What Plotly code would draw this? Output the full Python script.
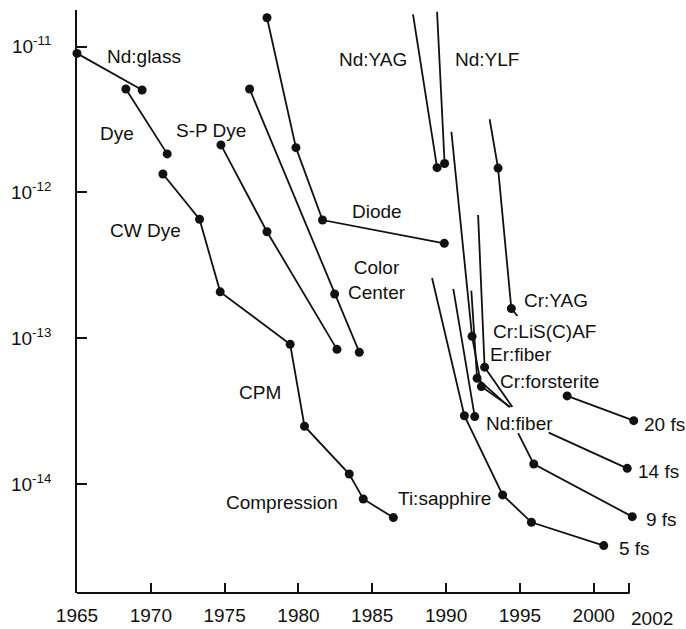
import plotly.graph_objects as go

INK = "#111111"
FONT = "Liberation Sans, Arial, Helvetica, sans-serif"

X_RANGE = [1965, 2003.0]
X_AXIS_END = 2002.42          # where the drawn x axis line stops
Y_RANGE = [-14.748, -10.748]  # log10 seconds

# pulse width (s) vs year
# marked points per laser line; *_top / *_tail are the unmarked ends of the trend lines
nd_glass_yr = [1965.0, 1969.41]
nd_glass_s = [9.0e-12, 5.05e-12]

dye_yr = [1968.31, 1971.11]
dye_s = [5.13e-12, 1.84e-12]

# CW dye -> CPM -> compression, one continuous line
cw_dye_yr = [1970.82, 1973.30, 1974.70, 1979.44, 1980.41, 1983.44, 1984.39, 1986.43]
cw_dye_s = [1.34e-12, 6.55e-13, 2.08e-13, 9.08e-14, 2.49e-14, 1.17e-14, 7.89e-15, 5.88e-15]

sp_dye_yr = [1974.75, 1977.87, 1982.61]
sp_dye_s = [2.12e-12, 5.38e-13, 8.39e-14]

color_center_yr = [1976.69, 1982.45, 1984.12]
color_center_s = [5.13e-12, 2.01e-13, 8.02e-14]

diode_yr = [1977.87, 1979.83, 1981.63, 1989.88]
diode_s = [1.58e-11, 2.03e-12, 6.47e-13, 4.48e-13]

nd_yag_top = (1987.76, 1.67e-11)
nd_yag_yr = [1989.39]
nd_yag_s = [1.48e-12]

nd_ylf_top = (1989.39, 1.74e-11)
nd_ylf_yr = [1989.90]
nd_ylf_s = [1.58e-12]

cr_yag_top = (1992.95, 3.18e-12)
cr_yag_yr = [1993.52, 1994.42]
cr_yag_s = [1.47e-12, 1.60e-13]
cr_yag_tail = (1994.83, 1.42e-13)

cr_lisaf_top = (1990.36, 2.61e-12)
cr_lisaf_yr = [1991.76, 1992.39]
cr_lisaf_s = [1.03e-13, 4.66e-14]
cr_lisaf_tail = (1994.36, 3.37e-14)

cr_fors_top = (1991.71, 2.12e-13)
cr_fors_yr = [1992.10]
cr_fors_s = [5.31e-14]
cr_fors_tail = (1994.29, 3.37e-14)

er_fiber_top = (1992.17, 7.0e-13)
er_fiber_yr = [1992.61]
er_fiber_s = [6.33e-14]
er_fiber_tail = (1994.49, 3.37e-14)

nd_fiber_top = (1990.49, 2.18e-13)
nd_fiber_yr = [1991.94]
nd_fiber_s = [2.9e-14]

ti_sapph_top = (1989.05, 2.59e-13)
ti_sapph_yr = [1991.24, 1993.83, 1995.78, 2000.68]
ti_sapph_s = [2.94e-14, 8.41e-15, 5.46e-15, 3.78e-15]

fs20_yr = [1998.20, 2002.71]
fs20_s = [4.02e-14, 2.72e-14]

fs14_top = (1996.95, 2.25e-14)
fs14_yr = [2002.27]
fs14_s = [1.28e-14]

fs9_top = (1994.88, 2.23e-14)
fs9_yr = [1995.94, 2002.61]
fs9_s = [1.37e-14, 5.97e-15]

year_ticks = [1965, 1970, 1975, 1980, 1985, 1990, 1995, 2000]
decade_ticks = [1e-11, 1e-12, 1e-13, 1e-14]
decade_labels = ["10<sup>-11</sup>", "10<sup>-12</sup>", "10<sup>-13</sup>", "10<sup>-14</sup>"]

# label text, year, log10(seconds)
labels = [
    ("Nd:glass", 1969.55, -11.068),
    ("Dye", 1967.70, -11.592),
    ("S-P Dye", 1974.06, -11.578),
    ("CW Dye", 1969.67, -12.264),
    ("Nd:YAG", 1985.04, -11.091),
    ("Nd:YLF", 1992.74, -11.091),
    ("Diode", 1985.32, -12.132),
    ("Color<br>Center", 1985.32, -12.600),
    ("Cr:YAG", 1997.44, -12.738),
    ("Cr:LiS(C)AF", 1996.67, -12.955),
    ("Er:fiber", 1995.07, -13.115),
    ("Cr:forsterite", 1997.01, -13.298),
    ("Nd:fiber", 1995.00, -13.584),
    ("Ti:sapphire", 1989.87, -14.098),
    ("CPM", 1977.41, -13.372),
    ("Compression", 1978.86, -14.127),
    ("20 fs", 2004.78, -13.595),
    ("14 fs", 2004.41, -13.916),
    ("9 fs", 2004.58, -14.247),
    ("5 fs", 2002.75, -14.444),
]

fig = go.Figure()


def add_series(yrs, secs, top=None, tail=None):
    xs, ys = list(yrs), list(secs)
    if top:
        xs.insert(0, top[0])
        ys.insert(0, top[1])
    if tail:
        xs.append(tail[0])
        ys.append(tail[1])
    fig.add_trace(go.Scatter(x=xs, y=ys, mode="lines", hoverinfo="skip",
                             line=dict(color=INK, width=1.8), cliponaxis=False))
    fig.add_trace(go.Scatter(x=yrs, y=secs, mode="markers",
                             marker=dict(color=INK, size=9), cliponaxis=False))


def paper_x(yr):
    return (yr - X_RANGE[0]) / (X_RANGE[1] - X_RANGE[0])


def paper_y(logy):
    return (logy - Y_RANGE[0]) / (Y_RANGE[1] - Y_RANGE[0])


add_series(nd_glass_yr, nd_glass_s)
add_series(dye_yr, dye_s)
add_series(cw_dye_yr, cw_dye_s)
add_series(sp_dye_yr, sp_dye_s)
add_series(color_center_yr, color_center_s)
add_series(diode_yr, diode_s)
add_series(nd_yag_yr, nd_yag_s, top=nd_yag_top)
add_series(nd_ylf_yr, nd_ylf_s, top=nd_ylf_top)
add_series(cr_yag_yr, cr_yag_s, top=cr_yag_top, tail=cr_yag_tail)
add_series(cr_lisaf_yr, cr_lisaf_s, top=cr_lisaf_top, tail=cr_lisaf_tail)
add_series(cr_fors_yr, cr_fors_s, top=cr_fors_top, tail=cr_fors_tail)
add_series(er_fiber_yr, er_fiber_s, top=er_fiber_top, tail=er_fiber_tail)
add_series(nd_fiber_yr, nd_fiber_s, top=nd_fiber_top)
add_series(ti_sapph_yr, ti_sapph_s, top=ti_sapph_top)
add_series(fs20_yr, fs20_s)
add_series(fs14_yr, fs14_s, top=fs14_top)
add_series(fs9_yr, fs9_s, top=fs9_top)

# paper coords so labels past the axis end are still drawn
for text, x, y in labels:
    fig.add_annotation(x=paper_x(x), y=paper_y(y), xref="paper", yref="paper",
                       xanchor="center", yanchor="middle",
                       text=text, showarrow=False,
                       font=dict(size=19, color=INK, family=FONT))

# the last x tick label sits right of its tick in the original
fig.add_annotation(x=paper_x(2003.98), y=0, xref="paper", yref="paper", yshift=-25,
                   xanchor="center", yanchor="middle",
                   text="2002", showarrow=False,
                   font=dict(size=19, color=INK, family=FONT))

# x axis line stops at the 2002 tick while the data run a little past it
fig.add_shape(type="line", xref="x", yref="paper",
              x0=X_RANGE[0], x1=X_AXIS_END, y0=0, y1=0,
              line=dict(color=INK, width=1.8))

fig.update_layout(
    width=686,
    height=629,
    showlegend=False,
    plot_bgcolor="white",
    paper_bgcolor="white",
    margin=dict(l=77, r=48, t=10, b=36, autoexpand=False),
    font=dict(family=FONT, color=INK, size=19),
    xaxis=dict(
        range=X_RANGE,
        tickvals=year_ticks + [X_AXIS_END],
        ticktext=[str(y) for y in year_ticks] + [""],
        ticks="inside", ticklen=10, tickwidth=1.5, tickcolor=INK,
        showline=False,
        showgrid=False, zeroline=False, ticklabelstandoff=9,
        automargin=False, tickfont=dict(size=19),
    ),
    yaxis=dict(
        type="log",
        range=Y_RANGE,
        tickvals=decade_ticks,
        ticktext=decade_labels,
        ticks="inside", ticklen=10, tickwidth=1.5, tickcolor=INK,
        showline=True, linecolor=INK, linewidth=1.8,
        showgrid=False, zeroline=False, ticklabelstandoff=20,
        automargin=False, tickfont=dict(size=19),
    ),
)

# drop the page's default 8px body margin so the figure sits at the window corner
fig.write_html("out.html", config={"displayModeBar": False},
               post_script="document.body.style.margin='0';")
